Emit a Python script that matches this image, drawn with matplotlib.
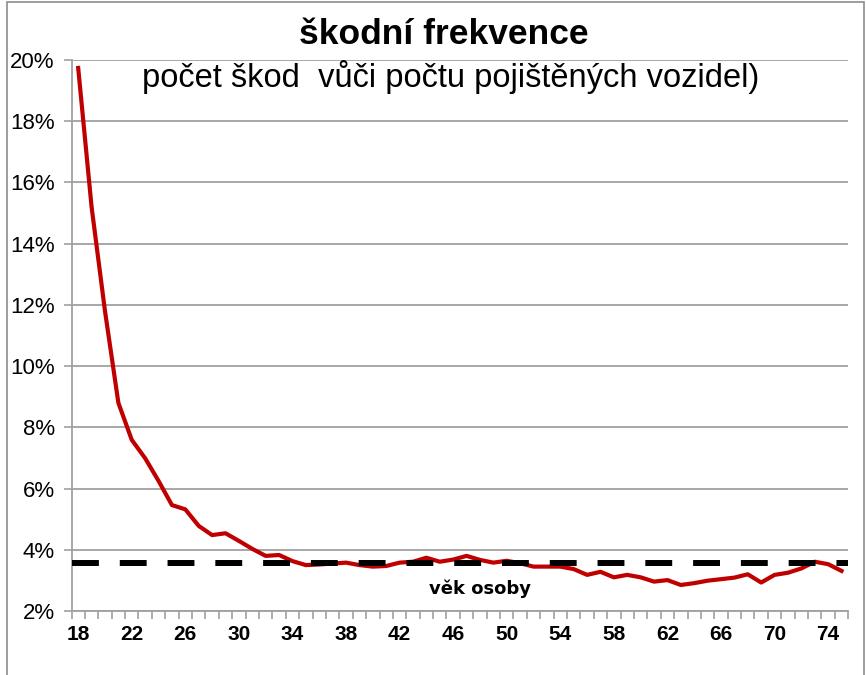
import matplotlib.pyplot as plt
from matplotlib.ticker import FixedLocator, FuncFormatter
from matplotlib.patches import Rectangle

# věk 18..75
AGES = list(range(18, 76))
# škodní frekvence v %
FREQ = [19.74, 15.2, 11.8, 8.8, 7.59, 6.99, 6.25, 5.46, 5.32, 4.78,
        4.48, 4.54, 4.29, 4.03, 3.80, 3.83, 3.63, 3.50, 3.52, 3.55,
        3.58, 3.50, 3.45, 3.47, 3.58, 3.61, 3.74, 3.61, 3.68, 3.80,
        3.67, 3.58, 3.64, 3.56, 3.45, 3.45, 3.45, 3.37, 3.18, 3.28,
        3.10, 3.18, 3.10, 2.96, 3.01, 2.85, 2.91, 2.99, 3.04, 3.09,
        3.20, 2.93, 3.18, 3.25, 3.39, 3.61, 3.53, 3.31]
AVG = 3.56
LABEL_AGES = list(range(18, 76, 4))
Y_TICKS = list(range(2, 21, 2))

TITLE = "škodní frekvence"
SUBTITLE = "počet škod  vůči počtu pojištěných vozidel)"
XLABEL = "věk osoby"

GRID = "#a0a0a0"

fig = plt.figure(figsize=(8.66, 6.75), dpi=100)
plt.rcParams['font.family'] = ['Liberation Sans', 'DejaVu Sans']

# rámeček kolem celého grafu
fig.patches.append(Rectangle((7 / 866, -0.01), (864 - 7) / 866, 1 - 2 / 675 + 0.01,
                             transform=fig.transFigure, fill=False,
                             edgecolor="#8c8c8c", linewidth=1.2))

ax = fig.add_axes([71.5 / 866, 1 - 611 / 675, (848.2 - 71.5) / 866, (611 - 60) / 675])

ax.plot(AGES, FREQ, color="#c00000", linewidth=3.0, solid_joinstyle="round", zorder=3)
ax.plot([AGES[0] - 0.5, AGES[-1] + 0.5], [AVG, AVG], color="black",
        linewidth=4.3, dashes=(4.5, 3.5), zorder=4)

ax.set_xlim(AGES[0] - 0.5, AGES[-1] + 0.5)
ax.set_ylim(2, 20)

ax.set_yticks(Y_TICKS)
ax.yaxis.set_major_formatter(FuncFormatter(lambda v, p: f"{int(v)}%"))
ax.tick_params(axis="y", length=6, width=1.2, color=GRID, labelsize=16, pad=6)
ax.yaxis.grid(True, color=GRID, linewidth=1.3)
ax.set_axisbelow(True)

ax.set_xticks(LABEL_AGES)
ax.set_xticklabels([str(a) for a in LABEL_AGES], fontweight="bold", fontsize=15)
ax.tick_params(axis="x", length=0, pad=10)
ax.xaxis.set_minor_locator(FixedLocator([a - 0.5 for a in AGES] + [AGES[-1] + 0.5]))
ax.tick_params(axis="x", which="minor", length=6, width=1.2, color=GRID)

for s in ["top", "right"]:
    ax.spines[s].set_visible(False)
for s in ["left", "bottom"]:
    ax.spines[s].set_color(GRID)
    ax.spines[s].set_linewidth(1.3)

ax.text(480 / 866, 1 - 589 / 675, XLABEL, transform=fig.transFigure, ha="center",
        va="center", fontsize=13, fontweight="bold", family="DejaVu Sans")

fig.text(444 / 866, 1 - 35 / 675, TITLE, ha="center", va="center",
         fontsize=25.5, fontweight="bold")
fig.text(451 / 866, 1 - 77 / 675, SUBTITLE, ha="center", va="center", fontsize=23.5)

fig.savefig("out.png", dpi=100)
